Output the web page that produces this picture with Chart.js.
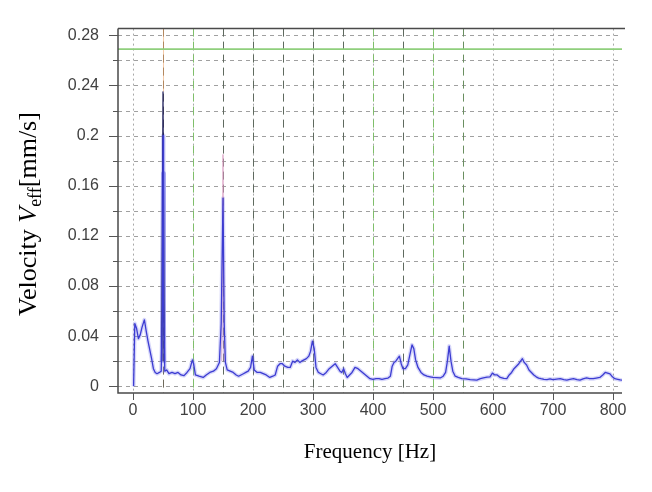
<!DOCTYPE html>
<html>
<head>
<meta charset="utf-8">
<script src="https://cdn.jsdelivr.net/npm/chart.js@4.4.0/dist/chart.umd.min.js"></script>
<style>
  html, body { margin: 0; padding: 0; background: #fff; }
</style>
</head>
<body>
<canvas id="spectrum-chart" width="652" height="492"></canvas>
<script>
'use strict';

// spectrum
const freqHz = [
  1, 3, 6, 9, 12, 15, 19, 22, 25, 28, 31, 34, 37, 40, 44, 47, 49, 50, 51, 53,
  56, 60, 65, 70, 75, 80, 85, 90, 95, 99, 101, 104, 110, 117, 122, 128, 134, 139, 144, 147,
  150, 152, 154, 157, 162, 167, 172, 176, 180, 184, 188, 192, 196, 199, 202, 207, 212, 217, 222, 228,
  233, 237, 241, 245, 249, 253, 258, 262, 266, 270, 274, 278, 281, 285, 289, 293, 296, 299, 302, 305,
  309, 313, 317, 322, 327, 332, 337, 341, 345, 348, 351, 354, 357, 361, 365, 370, 375, 380, 385, 390,
  395, 400, 405, 410, 415, 420, 425, 429, 432, 435, 438, 441, 444, 447, 450, 454, 458, 461, 465, 468,
  471, 475, 480, 485, 490, 495, 500, 506, 512, 517, 521, 524, 527, 530, 533, 537, 542, 548, 555, 562,
  568, 573, 579, 584, 590, 595, 599, 603, 607, 612, 618, 623, 627, 631, 635, 639, 643, 646, 649, 652,
  656, 660, 664, 668, 672, 676, 680, 685, 690, 695, 700, 706, 712, 718, 723, 728, 734, 740, 745, 750,
  756, 761, 767, 772, 778, 783, 787, 791, 795, 799, 803, 808, 812, 815,
];
const velocity = [
  0.000, 0.050, 0.046, 0.038, 0.041, 0.047, 0.053, 0.044, 0.036, 0.029, 0.022, 0.014, 0.011, 0.010, 0.011, 0.012, 0.060, 0.200, 0.070, 0.012,
  0.013, 0.010, 0.011, 0.010, 0.011, 0.009, 0.0085, 0.011, 0.014, 0.021, 0.018, 0.009, 0.008, 0.007, 0.009, 0.011, 0.012, 0.014, 0.019, 0.050,
  0.150, 0.050, 0.019, 0.013, 0.012, 0.011, 0.009, 0.008, 0.009, 0.010, 0.011, 0.012, 0.015, 0.024, 0.013, 0.011, 0.011, 0.010, 0.009, 0.007,
  0.008, 0.009, 0.016, 0.018, 0.018, 0.016, 0.015, 0.015, 0.020, 0.019, 0.021, 0.019, 0.020, 0.021, 0.022, 0.024, 0.028, 0.036, 0.030, 0.015,
  0.011, 0.010, 0.009, 0.011, 0.014, 0.016, 0.018, 0.015, 0.012, 0.011, 0.014, 0.010, 0.007, 0.009, 0.011, 0.015, 0.014, 0.012, 0.010, 0.008,
  0.006, 0.0055, 0.006, 0.006, 0.0055, 0.006, 0.0065, 0.008, 0.016, 0.019, 0.020, 0.022, 0.024, 0.018, 0.014, 0.014, 0.017, 0.024, 0.033, 0.030,
  0.021, 0.015, 0.011, 0.009, 0.008, 0.0075, 0.007, 0.0068, 0.0066, 0.008, 0.011, 0.020, 0.032, 0.020, 0.012, 0.008, 0.007, 0.006, 0.0058, 0.0053,
  0.005, 0.0048, 0.006, 0.0066, 0.0072, 0.0075, 0.0105, 0.009, 0.009, 0.007, 0.0062, 0.006, 0.009, 0.011, 0.014, 0.016, 0.018, 0.020, 0.022, 0.019,
  0.017, 0.013, 0.011, 0.009, 0.0075, 0.0065, 0.006, 0.0055, 0.0053, 0.0058, 0.0053, 0.0057, 0.006, 0.0052, 0.0048, 0.0055, 0.006, 0.0052, 0.0048, 0.0058,
  0.0066, 0.006, 0.006, 0.0065, 0.007, 0.009, 0.011, 0.0105, 0.0098, 0.0075, 0.006, 0.0055, 0.005, 0.0048,
];

// maximum hold at the two big peaks
const peak50Freq = [48, 50, 52];
const peak50Vel = [0.02, 0.235, 0.02];
const peak150Freq = [148, 150, 152];
const peak150Vel = [0.02, 0.185, 0.02];
// minimum hold band at the running speed
const band50Freq = [48.5, 50, 51.5];
const band50Vel = [0.02, 0.17, 0.02];

// alarm level line
const alarmFreq = [-25, 815];
const alarmVel = [0.269, 0.269];

// harmonic cursors and ticks
const harmonicHz = [50, 100, 150, 200, 250, 300, 350, 400, 450, 500, 550];
const xTicks = [0, 100, 200, 300, 400, 500, 600, 700, 800];
const yTicks = [0, 0.02, 0.04, 0.06, 0.08, 0.1, 0.12, 0.14, 0.16, 0.18, 0.2, 0.22, 0.24, 0.26, 0.28];

function toPoints(xs, ys) {
  return xs.map((x, i) => ({ x: x, y: ys[i] }));
}

const cursorStyle = {
  50: '#6f6a5c', 100: '#7fbf6a', 150: '#5f6a5f', 200: '#5f6a5f', 250: '#5f6a5f', 300: '#5f6a5f',
  350: '#5f6a5f', 400: '#7fbf6a', 450: '#5f6a5f', 500: '#7fbf6a', 550: '#6a8f60',
};

const gridPlugin = {
  id: 'gridPlugin',
  beforeDatasetsDraw(chart) {
    const ctx = chart.ctx;
    const a = chart.chartArea;
    const xs = chart.scales.x;
    const ys = chart.scales.y;
    ctx.save();
    ctx.lineWidth = 1;
    // horizontal dashed grid
    ctx.strokeStyle = '#a0a0a0';
    ctx.setLineDash([4, 4]);
    yTicks.forEach(v => {
      const y = Math.round(ys.getPixelForValue(v)) + 0.5;
      ctx.beginPath();
      ctx.moveTo(a.left, y);
      ctx.lineTo(a.right, y);
      ctx.stroke();
    });
    // vertical dotted grid
    ctx.setLineDash([2, 3]);
    ctx.strokeStyle = '#a8a8a8';
    xTicks.forEach(v => {
      const x = Math.round(xs.getPixelForValue(v)) + 0.5;
      ctx.beginPath();
      ctx.moveTo(x, a.top);
      ctx.lineTo(x, a.bottom);
      ctx.stroke();
    });
    // harmonic cursors
    ctx.setLineDash([8, 5]);
    harmonicHz.forEach(v => {
      const x = Math.round(xs.getPixelForValue(v)) + 0.5;
      ctx.strokeStyle = cursorStyle[v];
      ctx.beginPath();
      ctx.moveTo(x, a.top);
      ctx.lineTo(x, a.bottom);
      ctx.stroke();
    });
    // faint orange marker at the running speed
    const x50 = Math.round(xs.getPixelForValue(50)) + 0.5;
    ctx.setLineDash([]);
    ctx.strokeStyle = 'rgba(235,160,100,0.55)';
    ctx.beginPath();
    ctx.moveTo(x50, a.top);
    ctx.lineTo(x50, ys.getPixelForValue(0.235));
    ctx.stroke();
    ctx.restore();
  },
  afterDraw(chart) {
    const ctx = chart.ctx;
    const a = chart.chartArea;
    const xs = chart.scales.x;
    const ys = chart.scales.y;
    ctx.save();
    ctx.setLineDash([]);
    ctx.strokeStyle = '#4a4a4a';
    ctx.lineWidth = 1.5;
    ctx.beginPath();
    ctx.moveTo(a.left, a.top);
    ctx.lineTo(a.right + 3, a.top);
    ctx.moveTo(a.left, a.top);
    ctx.lineTo(a.left, a.bottom);
    ctx.lineTo(a.right, a.bottom);
    ctx.stroke();
    ctx.lineWidth = 1;
    ctx.strokeStyle = '#555';
    yTicks.forEach((v, i) => {
      const y = Math.round(ys.getPixelForValue(v)) + 0.5;
      const len = i % 2 === 0 ? 9 : 5;
      ctx.beginPath();
      ctx.moveTo(a.left - len, y);
      ctx.lineTo(a.left, y);
      ctx.stroke();
    });
    xTicks.forEach(v => {
      const x = Math.round(xs.getPixelForValue(v)) + 0.5;
      ctx.beginPath();
      ctx.moveTo(x, a.bottom);
      ctx.lineTo(x, a.bottom + 7);
      ctx.stroke();
    });
    // axis titles
    ctx.fillStyle = '#000';
    ctx.textBaseline = 'middle';
    ctx.textAlign = 'center';
    ctx.font = '21px "Liberation Serif"';
    ctx.fillText('Frequency [Hz]', 370, 452);
    ctx.translate(27, 214);
    ctx.rotate(-Math.PI / 2);
    const parts = [
      { t: 'Velocity ', f: '26px "Liberation Serif"', dy: 0 },
      { t: 'V', f: 'italic 26px "Liberation Serif"', dy: 0 },
      { t: 'eff', f: '18px "Liberation Serif"', dy: 5 },
      { t: '[mm/s]', f: '26px "Liberation Serif"', dy: 0 },
    ];
    let total = 0;
    parts.forEach(p => { ctx.font = p.f; p.w = ctx.measureText(p.t).width; total += p.w; });
    let cx = -total / 2;
    ctx.textAlign = 'left';
    ctx.textBaseline = 'alphabetic';
    parts.forEach(p => {
      ctx.font = p.f;
      ctx.fillText(p.t, cx, 9 + p.dy);
      cx += p.w;
    });
    ctx.restore();
  },
};

const chartEl = document.getElementById('spectrum-chart');
let spectrumChart = new Chart(chartEl, {
  type: 'line',
  data: {
    datasets: [
      {
        data: toPoints(freqHz, velocity),
        borderColor: '#3c3cd2',
        borderWidth: 1.3,
        order: 1,
      },
      {
        data: toPoints(freqHz, velocity),
        borderColor: 'rgba(120,120,235,0.30)',
        borderWidth: 4,
        order: 6,
      },
      {
        data: toPoints(band50Freq, band50Vel),
        borderColor: 'rgba(110,110,230,0.55)',
        borderWidth: 4,
        order: 5,
      },
      {
        data: toPoints(peak50Freq, peak50Vel),
        borderColor: '#1c1c5a',
        borderWidth: 1.2,
        order: 2,
      },
      {
        data: toPoints(peak150Freq, peak150Vel),
        borderColor: 'rgba(215,150,190,0.7)',
        borderWidth: 1,
        order: 3,
      },
      {
        data: toPoints(alarmFreq, alarmVel),
        borderColor: '#8fcf7c',
        borderWidth: 1.6,
        order: 4,
      },
    ],
  },
  options: {
    responsive: false,
    animation: false,
    devicePixelRatio: 1,
    parsing: false,
    elements: {
      point: { radius: 0 },
      line: { tension: 0, borderJoinStyle: 'round' },
    },
    layout: {
      padding: { top: 13, right: 30, left: 0, bottom: 0 },
    },
    plugins: {
      legend: { display: false },
      tooltip: { enabled: false },
    },
    scales: {
      x: {
        type: 'linear',
        min: -25,
        max: 815,
        afterBuildTicks: scale => { scale.ticks = xTicks.map(v => ({ value: v })); },
        afterFit: scale => { scale.height = 99; },
        grid: { display: false, drawTicks: false },
        border: { display: false },
        ticks: {
          color: '#404040',
          padding: 8,
          maxRotation: 0,
          font: { family: 'Liberation Sans', size: 16 },
          callback: v => String(v),
        },
      },
      y: {
        type: 'linear',
        min: -0.0054,
        max: 0.2854,
        afterBuildTicks: scale => { scale.ticks = yTicks.map(v => ({ value: v })); },
        afterFit: scale => { scale.width = 118; },
        grid: { display: false, drawTicks: false },
        border: { display: false },
        ticks: {
          color: '#404040',
          padding: 19,
          font: { family: 'Liberation Sans', size: 16 },
          callback: (v, i) => (i % 2 === 0 ? String(parseFloat(v.toFixed(2))) : ''),
        },
      },
    },
  },
  plugins: [gridPlugin],
});
</script>
</body>
</html>
